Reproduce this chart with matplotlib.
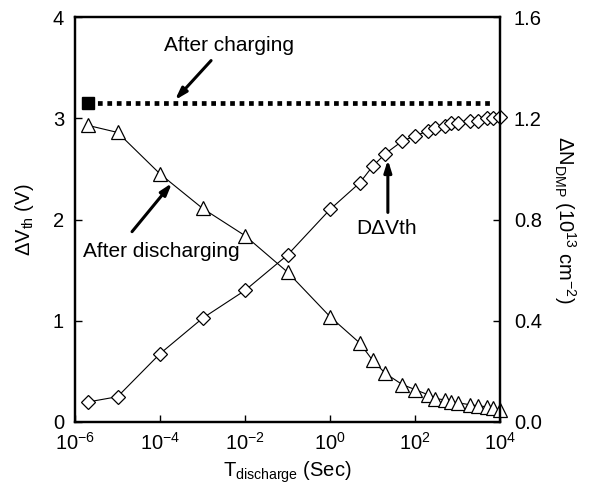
import numpy as np
import matplotlib
matplotlib.use("Agg")
import matplotlib.pyplot as plt
from matplotlib.ticker import FixedLocator, NullLocator

plt.rcParams['font.family'] = ['Liberation Sans', 'DejaVu Sans']
plt.rcParams['mathtext.fontset'] = 'custom'
plt.rcParams['mathtext.rm'] = 'Liberation Sans'
plt.rcParams['mathtext.it'] = 'Liberation Sans:italic'

# discharge time (s)
t = [2e-6, 1e-5, 1e-4, 1e-3, 1e-2, 1e-1, 1e0, 5, 10, 20, 50, 100, 200, 300,
     500, 700, 1000, 2000, 3000, 5000, 7000, 10000]
# delta Vth after discharging (V), left axis
dvth = [2.93, 2.86, 2.45, 2.11, 1.84, 1.48, 1.04, 0.78, 0.61, 0.48, 0.37, 0.32,
        0.27, 0.23, 0.22, 0.20, 0.19, 0.17, 0.16, 0.15, 0.14, 0.12]
# delta N_DMP (1e13 cm^-2), right axis
dn = [0.079, 0.10, 0.27, 0.41, 0.52, 0.66, 0.84, 0.945, 1.01, 1.06, 1.11, 1.13,
      1.15, 1.16, 1.17, 1.18, 1.18, 1.19, 1.19, 1.20, 1.20, 1.205]
# after charging level (V)
t_charge = [2e-6, 7e3]
v_charge = [3.15, 3.15]

fig = plt.figure(figsize=(5.96, 4.87), dpi=100)
ax = fig.add_axes([0.126, 0.1335, 0.713, 0.8315])
ax2 = ax.twinx()

ax.plot(t_charge, v_charge, color='k', lw=3.4, linestyle=(0, (1, 1.0)),
        dash_capstyle='butt')
ax.plot(t_charge[0], v_charge[0], marker='s', ms=9, color='k', ls='none')
ax.plot(t, dvth, color='k', lw=0.8, marker='^', ms=10, mfc='white', mec='k',
        mew=0.9, clip_on=False)
ax2.plot(t, dn, color='k', lw=0.8, marker='D', ms=7, mfc='white', mec='k',
         mew=0.9, clip_on=False)

ax.set_xscale('log')
ax.set_xlim(1e-6, 1e4)
ax.set_ylim(0, 4)
ax2.set_ylim(0, 1.6)
ax.xaxis.set_major_locator(FixedLocator([1e-6, 1e-4, 1e-2, 1e0, 1e2, 1e4]))
ax.xaxis.set_minor_locator(NullLocator())
ax.set_yticks([0, 1, 2, 3, 4])
ax2.set_yticks([0.0, 0.4, 0.8, 1.2, 1.6])
ax2.set_yticklabels(['0.0', '0.4', '0.8', '1.2', '1.6'])

for a in (ax, ax2):
    a.tick_params(direction='in', labelsize=14.5, length=5, width=1)
    for s in a.spines.values():
        s.set_linewidth(1.6)
ax.tick_params(axis='x', pad=7)
ax.tick_params(axis='y', pad=8)
ax2.tick_params(axis='y', pad=10)

ax.set_xlabel(r'T$_{\mathregular{discharge}}$ (Sec)', fontsize=14.5, labelpad=4)
ax.set_ylabel(r'ΔV$_{\mathregular{th}}$ (V)', fontsize=14.5, labelpad=12)
ax2.set_ylabel(r'ΔN$_{\mathregular{DMP}}$ (10$^{\mathregular{13}}$ cm$^{\mathregular{-2}}$)',
               fontsize=14.5, rotation=270, labelpad=26)

arrow = dict(arrowstyle='-|>,head_length=0.7,head_width=0.22', lw=2.2,
             color='k', shrinkA=0, shrinkB=0)
ax.annotate('', xy=(10**-3.65, 3.18), xytext=(10**-2.8, 3.57), arrowprops=arrow)
ax.text(10**-2.38, 3.72, 'After charging', fontsize=15, ha='center', va='center')
ax.annotate('', xy=(10**-3.72, 2.36), xytext=(10**-4.66, 1.88), arrowprops=arrow)
ax.text(10**-3.98, 1.68, 'After discharging', fontsize=15, ha='center', va='center')
ax.annotate('', xy=(10**1.36, 2.59), xytext=(10**1.36, 2.07), arrowprops=arrow)
ax.text(10**1.34, 1.91, 'DΔVth', fontsize=15, ha='center', va='center')

fig.savefig('out.png', dpi=100)
